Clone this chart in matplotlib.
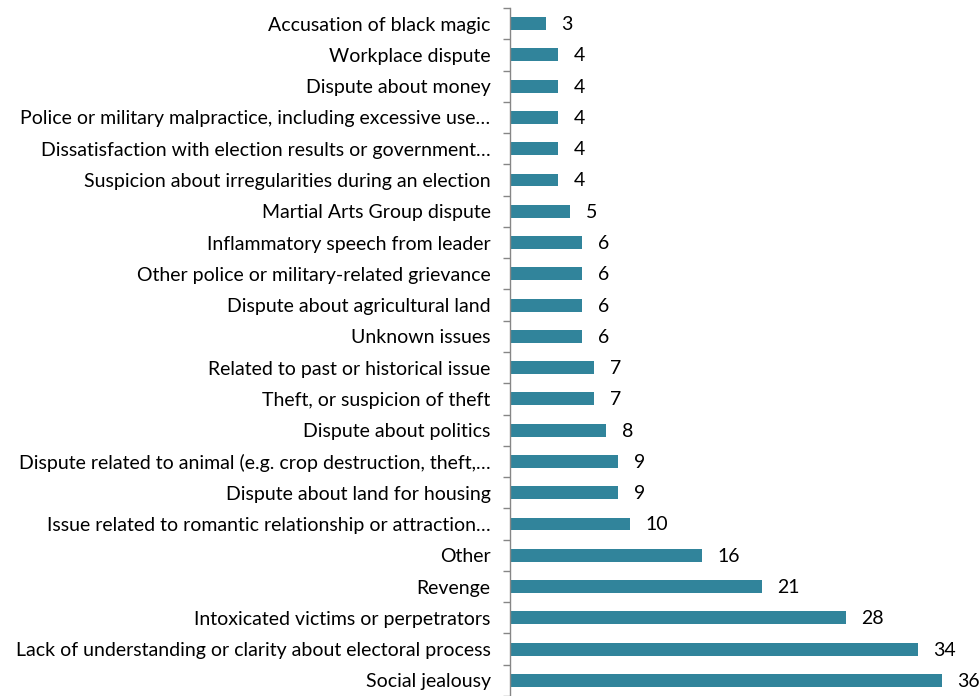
import numpy as np
import matplotlib.pyplot as plt

# Data (top to bottom as in the chart)
labels = [
    "Accusation of black magic",
    "Workplace dispute",
    "Dispute about money",
    "Police or military malpractice, including excessive use…",
    "Dissatisfaction with election results or government…",
    "Suspicion about irregularities during an election",
    "Martial Arts Group dispute",
    "Inflammatory speech from leader",
    "Other police or military-related grievance",
    "Dispute about agricultural land",
    "Unknown issues",
    "Related to past or historical issue",
    "Theft, or suspicion of theft",
    "Dispute about politics",
    "Dispute related to animal (e.g. crop destruction, theft,…",
    "Dispute about land for housing",
    "Issue related to romantic relationship or attraction…",
    "Other",
    "Revenge",
    "Intoxicated victims or perpetrators",
    "Lack of understanding or clarity about electoral process",
    "Social jealousy",
]
values = [3, 4, 4, 4, 4, 4, 5, 6, 6, 6, 6, 7, 7, 8, 9, 9, 10, 16, 21, 28, 34, 36]

plt.rcParams['font.family'] = ['Lato', 'DejaVu Sans']

fig = plt.figure(figsize=(9.8, 6.96), dpi=100)
ax = fig.add_axes([510 / 980, 0, 470 / 980, 1 - 8 / 696])

n = len(labels)
y = np.arange(n)[::-1]
ax.barh(y, values, height=0.41, color='#31849B')

for yi, v in zip(y, values):
    ax.text(v + 1.3, yi - 0.03, str(v), va='center', ha='left', fontsize=14, color='#000000')

ax.set_xlim(0, 470 / 12)
ax.set_ylim(-0.45, n - 0.5)

ax.set_yticks(y)
ax.set_yticklabels(labels, fontsize=14)
ax.tick_params(axis='y', which='major', length=0, pad=14)
ax.set_yticks(np.arange(-0.5, n, 1.0), minor=True)
ax.tick_params(axis='y', which='minor', length=5, width=1, color='#868686')

ax.set_xticks([])
for s in ['top', 'right', 'bottom']:
    ax.spines[s].set_visible(False)
ax.spines['left'].set_color('#868686')
ax.spines['left'].set_linewidth(1)

fig.savefig('out.png', dpi=100)
